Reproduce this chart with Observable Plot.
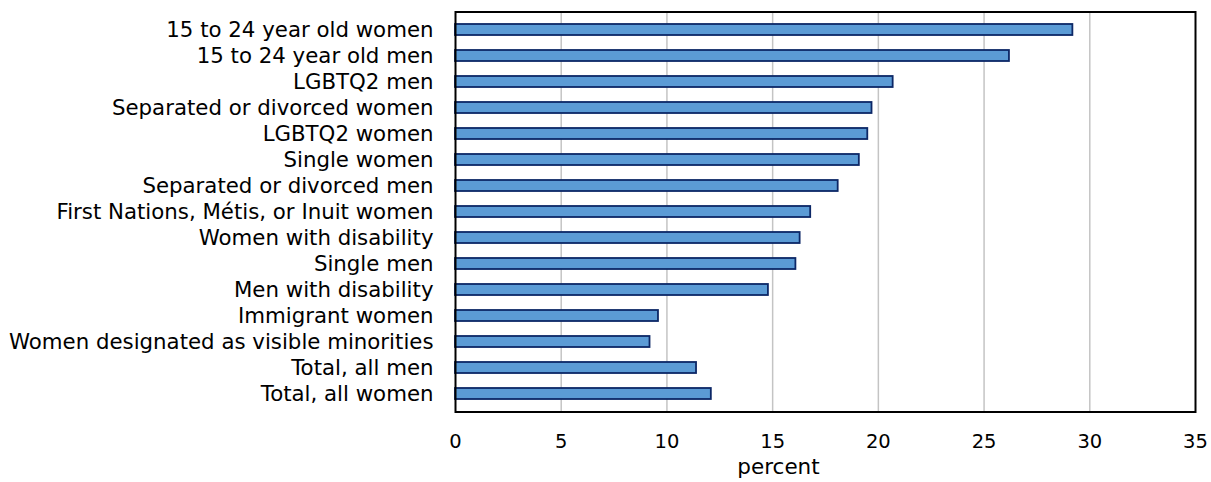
<!DOCTYPE html>
<html>
<head>
<meta charset="utf-8">
<script src="https://cdn.jsdelivr.net/npm/d3@7"></script>
<script src="https://cdn.jsdelivr.net/npm/@observablehq/plot@0.6"></script>
<style>
  html, body { margin: 0; padding: 0; background: #fff; }
</style>
</head>
<body>
<div id="chart"></div>
<script>
const categories = [
  "15 to 24 year old women",
  "15 to 24 year old men",
  "LGBTQ2 men",
  "Separated or divorced women",
  "LGBTQ2 women",
  "Single women",
  "Separated or divorced men",
  "First Nations, Métis, or Inuit women",
  "Women with disability",
  "Single men",
  "Men with disability",
  "Immigrant women",
  "Women designated as visible minorities",
  "Total, all men",
  "Total, all women"
];
const values = [29.2, 26.2, 20.7, 19.7, 19.5, 19.1, 18.1, 16.8, 16.3, 16.1, 14.8, 9.6, 9.2, 11.4, 12.1];
const xTicks = [0, 5, 10, 15, 20, 25, 30, 35];
const gridTicks = [5, 10, 15, 20, 25, 30];
const xLabel = "percent";

const data = categories.map((c, i) => ({category: c, value: values[i]}));

const chart = Plot.plot({
  width: 1211,
  height: 482,
  marginLeft: 455,
  marginRight: 16,
  marginTop: 11.5,
  marginBottom: 70.5,
  style: {fontFamily: "Verdana, 'DejaVu Sans', sans-serif", fontSize: "20px", color: "#000", background: "#fff"},
  x: {domain: [0, 35]},
  y: {domain: categories, paddingInner: 0.56, paddingOuter: 0.28},
  marks: [
    Plot.gridX(gridTicks, {stroke: "#c4c4c4", strokeOpacity: 1, strokeWidth: 1.5}),
    Plot.barX(data, {x: "value", y: "category", fill: "#5b9bd5", stroke: "#0c2766", strokeWidth: 1.8}),
    Plot.frame({stroke: "#000", strokeWidth: 2}),
    Plot.axisX({ticks: xTicks, tickSize: 0, tickPadding: 22, fontSize: 19.5, label: null}),
    Plot.axisY({tickSize: 0, tickPadding: 22, fontSize: 21.3, label: null}),
    Plot.text([xLabel], {frameAnchor: "bottom", dx: -47, dy: 55, fontSize: 21.5, lineAnchor: "middle", fill: "#000"})
  ]
});
document.getElementById("chart").appendChild(chart);
</script>
</body>
</html>
